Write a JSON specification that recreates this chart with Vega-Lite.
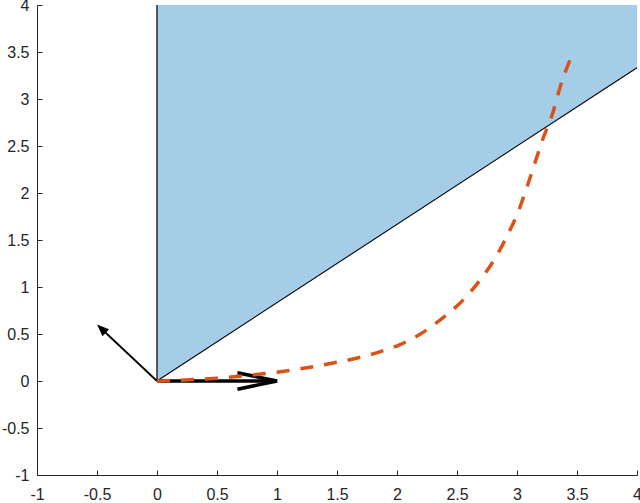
{
  "$schema": "https://vega.github.io/schema/vega-lite/v6.json",
  "autosize": "none",
  "width": 600,
  "height": 470,
  "padding": {"left": 37, "top": 5, "right": 3, "bottom": 28},
  "background": "white",
  "config": {
    "view": {"stroke": null},
    "axis": {
      "grid": false,
      "domainColor": "#262626",
      "domainWidth": 1,
      "tickColor": "#262626",
      "tickWidth": 1,
      "tickSize": -5,
      "labelFont": "Liberation Sans",
      "labelFontSize": 16,
      "labelColor": "#262626",
      "labelFlush": false,
      "labelOverlap": false,
      "labelBound": false,
      "title": null
    }
  },
  "datasets": {
    "region": [
      {"x": 0, "y": 0, "y2": 4},
      {"x": 4, "y": 3.3333, "y2": 4}
    ],
    "vedge": [
      {"x": 0, "y": 0, "ord": 0},
      {"x": 0, "y": 4, "ord": 1}
    ],
    "dedge": [
      {"x": 0, "y": 0, "ord": 0},
      {"x": 4, "y": 3.3333, "ord": 1}
    ],
    "curve": [
      {"x": 0, "y": 0, "ord": 0},
      {"x": 0.5, "y": 0.03, "ord": 1},
      {"x": 0.94, "y": 0.085, "ord": 2},
      {"x": 1.38, "y": 0.17, "ord": 3},
      {"x": 1.83, "y": 0.3, "ord": 4},
      {"x": 2.03, "y": 0.39, "ord": 5},
      {"x": 2.22, "y": 0.52, "ord": 6},
      {"x": 2.36, "y": 0.65, "ord": 7},
      {"x": 2.55, "y": 0.86, "ord": 8},
      {"x": 2.69, "y": 1.07, "ord": 9},
      {"x": 2.82, "y": 1.31, "ord": 10},
      {"x": 2.92, "y": 1.55, "ord": 11},
      {"x": 3.01, "y": 1.8, "ord": 12},
      {"x": 3.09, "y": 2.09, "ord": 13},
      {"x": 3.22, "y": 2.59, "ord": 14},
      {"x": 3.3, "y": 2.86, "ord": 15},
      {"x": 3.36, "y": 3.13, "ord": 16},
      {"x": 3.44, "y": 3.41, "ord": 17}
    ],
    "thick": [
      {"seg": "shaft", "x": 0, "y": 0, "ord": 0},
      {"seg": "shaft", "x": 1, "y": 0, "ord": 1},
      {"seg": "head", "x": 0.67, "y": 0.088, "ord": 0},
      {"seg": "head", "x": 1.0, "y": 0, "ord": 1},
      {"seg": "head", "x": 0.67, "y": -0.088, "ord": 2}
    ],
    "thin": [
      {"x": 0, "y": 0, "ord": 0},
      {"x": -0.43, "y": 0.516, "ord": 1}
    ],
    "thinhead": [
      {"x": -0.5, "y": 0.6}
    ]
  },
  "layer": [
    {
      "data": {"name": "region"},
      "mark": {"type": "area", "color": "#a6cde8", "opacity": 1},
      "encoding": {
        "x": {"field": "x", "type": "quantitative", "scale": {"domain": [-1, 4], "nice": false, "zero": false},
          "axis": {"values": [-1, -0.5, 0, 0.5, 1, 1.5, 2, 2.5, 3, 3.5, 4], "labelExpr": "(datum.value < 0 ? '-' : '') + format(abs(datum.value), '~g')", "labelPadding": 16}},
        "y": {"field": "y", "type": "quantitative", "scale": {"domain": [-1, 4], "nice": false, "zero": false},
          "axis": {"values": [-1, -0.5, 0, 0.5, 1, 1.5, 2, 2.5, 3, 3.5, 4], "labelExpr": "(datum.value < 0 ? '-' : '') + format(abs(datum.value), '~g')", "labelPadding": 13}},
        "y2": {"field": "y2"}
      }
    },
    {
      "data": {"name": "vedge"},
      "mark": {"type": "line", "color": "#262626", "strokeWidth": 1.5},
      "encoding": {
        "x": {"field": "x", "type": "quantitative"},
        "y": {"field": "y", "type": "quantitative"},
        "order": {"field": "ord"}
      }
    },
    {
      "data": {"name": "dedge"},
      "mark": {"type": "line", "color": "#000000", "strokeWidth": 1.1},
      "encoding": {
        "x": {"field": "x", "type": "quantitative"},
        "y": {"field": "y", "type": "quantitative"},
        "order": {"field": "ord"}
      }
    },
    {
      "data": {"name": "thick"},
      "mark": {"type": "line", "color": "#000000", "strokeWidth": 3.5, "strokeJoin": "miter"},
      "encoding": {
        "x": {"field": "x", "type": "quantitative"},
        "y": {"field": "y", "type": "quantitative"},
        "detail": {"field": "seg"},
        "order": {"field": "ord"}
      }
    },
    {
      "data": {"name": "thin"},
      "mark": {"type": "line", "color": "#000000", "strokeWidth": 1.8},
      "encoding": {
        "x": {"field": "x", "type": "quantitative"},
        "y": {"field": "y", "type": "quantitative"},
        "order": {"field": "ord"}
      }
    },
    {
      "data": {"name": "thinhead"},
      "mark": {"type": "point", "shape": "M0,0L-0.4,1L0.4,1Z", "filled": true, "color": "#000000", "opacity": 1, "size": 576, "angle": 313},
      "encoding": {
        "x": {"field": "x", "type": "quantitative"},
        "y": {"field": "y", "type": "quantitative"}
      }
    },
    {
      "data": {"name": "curve"},
      "mark": {"type": "line", "color": "#d95319", "strokeWidth": 3.5, "strokeDash": [13, 11], "interpolate": "monotone"},
      "encoding": {
        "x": {"field": "x", "type": "quantitative"},
        "y": {"field": "y", "type": "quantitative"},
        "order": {"field": "ord"}
      }
    }
  ]
}
